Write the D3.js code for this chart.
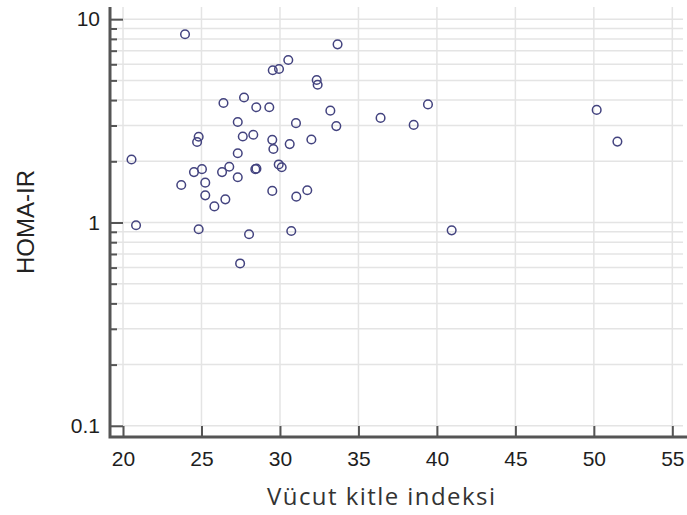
<!DOCTYPE html>
<html>
<head>
<meta charset="utf-8">
<script src="https://cdn.jsdelivr.net/npm/d3@7"></script>
<style>
  html, body { margin: 0; padding: 0; background: #ffffff; }
  svg { display: block; }
</style>
</head>
<body>
<svg id="chart" width="687" height="515"></svg>
<script>
// Body mass index (x) against HOMA-IR (log y), one circle per subject
const bmi = [
  23.95, 20.54, 20.83, 33.67, 30.53, 29.54, 29.94, 32.34, 32.40, 27.71,
  26.40, 28.49, 29.32, 33.21, 36.41, 27.31, 31.02, 33.59, 38.52, 39.43,
  50.18, 51.50, 24.82, 24.72, 27.63, 28.30, 29.51, 29.58, 30.62, 32.00,
  27.31, 24.52, 25.03, 26.31, 26.77, 27.31, 28.43, 28.50, 29.92, 30.11,
  23.71, 25.24, 29.51, 31.04, 31.74, 25.24, 26.52, 25.82, 24.82, 28.03,
  30.72, 27.46, 40.94
];
const homaIR = [
  8.43, 2.04, 0.969, 7.52, 6.30, 5.61, 5.69, 5.02, 4.76, 4.12,
  3.87, 3.69, 3.69, 3.55, 3.27, 3.12, 3.08, 2.98, 3.02, 3.81,
  3.58, 2.50, 2.64, 2.49, 2.65, 2.70, 2.55, 2.30, 2.43, 2.56,
  2.19, 1.77, 1.83, 1.77, 1.88, 1.67, 1.83, 1.84, 1.93, 1.87,
  1.53, 1.57, 1.43, 1.34, 1.44, 1.36, 1.30, 1.20, 0.926, 0.875,
  0.908, 0.629, 0.915
];
const xTicks = [20, 25, 30, 35, 40, 45, 50, 55];
const yMajorTicks = [0.1, 1, 10];
const yTickLabels = ["0.1", "1", "10"];
const yMinorTicks = [0.2, 0.3, 0.4, 0.5, 0.6, 0.7, 0.8, 0.9, 2, 3, 4, 5, 6, 7, 8, 9];
const xTitle = "Vücut kitle indeksi";
const yTitle = "HOMA-IR";

const points = bmi.map((v, i) => ({ x: v, y: homaIR[i] }));

const plotLeft = 110, plotRight = 683, plotTop = 7, plotBottom = 437;
const x = d3.scaleLinear().domain([19.17, 55.68]).range([plotLeft, plotRight]);
const y = d3.scaleLog().domain([0.0881, 11.48]).range([plotBottom, plotTop]);

const svg = d3.select("#chart");

// Grid
const grid = svg.append("g").attr("stroke", "#e4e4e4").attr("stroke-width", 1.5);
grid.selectAll("line.h")
  .data(yMajorTicks.concat(yMinorTicks))
  .join("line")
  .attr("class", "h")
  .attr("x1", plotLeft).attr("x2", plotRight)
  .attr("y1", d => y(d)).attr("y2", d => y(d));
grid.selectAll("line.v")
  .data(xTicks)
  .join("line")
  .attr("class", "v")
  .attr("x1", d => x(d)).attr("x2", d => x(d))
  .attr("y1", plotTop).attr("y2", plotBottom);

const axisColor = "#555555";
const tickFont = "'Liberation Sans', Arial, sans-serif";

// Y axis: minor ticks (short, inward)
const yMinor = svg.append("g")
  .attr("transform", `translate(${plotLeft},0)`)
  .call(d3.axisLeft(y).tickValues(yMinorTicks).tickSize(-7).tickFormat(""));
yMinor.select(".domain").remove();
yMinor.selectAll("line").attr("stroke", axisColor).attr("stroke-width", 2);

// Y axis: major ticks with labels
const yMajor = svg.append("g")
  .attr("transform", `translate(${plotLeft},0)`)
  .call(d3.axisLeft(y).tickValues(yMajorTicks).tickSize(-13).tickPadding(10)
    .tickFormat((d, i) => yTickLabels[i]));
yMajor.select(".domain").remove();
yMajor.selectAll("line").attr("stroke", axisColor).attr("stroke-width", 2);
yMajor.selectAll("text")
  .attr("fill", "#1e1e1e")
  .style("font-family", tickFont)
  .style("font-size", "21px");

// X axis with inward ticks
const xAxis = svg.append("g")
  .attr("transform", `translate(0,${plotBottom})`)
  .call(d3.axisBottom(x).tickValues(xTicks).tickSize(-11).tickPadding(14));
xAxis.select(".domain").remove();
xAxis.selectAll("line").attr("stroke", axisColor).attr("stroke-width", 2);
xAxis.selectAll("text")
  .attr("fill", "#1e1e1e")
  .style("font-family", tickFont)
  .style("font-size", "21px");

// Axis lines
svg.append("path")
  .attr("d", `M${plotLeft},${plotTop}V${plotBottom}H687`)
  .attr("fill", "none")
  .attr("stroke", axisColor)
  .attr("stroke-width", 3);

// Points
svg.append("g")
  .selectAll("circle")
  .data(points)
  .join("circle")
  .attr("cx", d => x(d.x))
  .attr("cy", d => y(d.y))
  .attr("r", 4.3)
  .attr("fill", "none")
  .attr("stroke", "#43437f")
  .attr("stroke-width", 1.5);

// Axis titles
svg.append("text")
  .attr("transform", `translate(34,${(plotTop + plotBottom) / 2}) rotate(-90)`)
  .attr("text-anchor", "middle")
  .attr("fill", "#222")
  .style("font-family", tickFont)
  .style("font-size", "24px")
  .text(yTitle);

svg.append("text")
  .attr("x", 381)
  .attr("y", 505)
  .attr("text-anchor", "middle")
  .attr("textLength", 228)
  .attr("lengthAdjust", "spacing")
  .attr("fill", "#333")
  .style("font-family", "'Open Sans', 'Noto Sans', sans-serif")
  .style("font-size", "24px")
  .text(xTitle);
</script>
</body>
</html>
